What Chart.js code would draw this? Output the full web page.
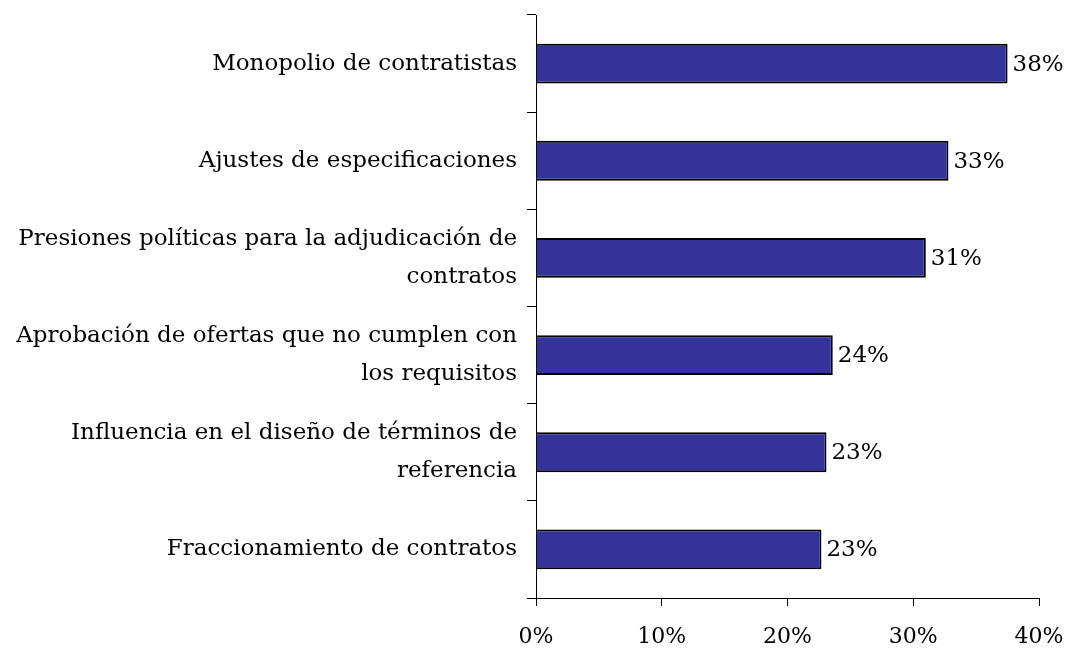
<!DOCTYPE html>
<html>
<head>
<meta charset="utf-8">
<script src="https://cdn.jsdelivr.net/npm/chart.js@4/dist/chart.umd.min.js"></script>
<style>
  html, body { margin: 0; padding: 0; background: #fff; }
  #wrap { width: 1067px; height: 648px; }
</style>
</head>
<body>
<div id="wrap"><canvas id="chartCausas"></canvas></div>
<script>
// --- datos ---
const categorias = [
    'Monopolio de contratistas',
    'Ajustes de especificaciones',
    ['Presiones políticas para la adjudicación de', 'contratos'],
    ['Aprobación de ofertas que no cumplen con', 'los requisitos'],
    ['Influencia en el diseño de términos de', 'referencia'],
    'Fraccionamiento de contratos'
];
const porcentajes = [37.5, 32.8, 31.0, 23.6, 23.1, 22.7];
const ticksX = [0, 10, 20, 30, 40];

const fuente = "'DejaVu Serif', 'Liberation Serif', serif";

// etiquetas de valor a la derecha de cada barra
const etiquetasValor = {
    id: 'etiquetasValor',
    afterDatasetsDraw(chart) {
        const ctx = chart.ctx;
        const meta = chart.getDatasetMeta(0);
        ctx.save();
        ctx.font = '23px ' + fuente;
        ctx.fillStyle = '#000';
        ctx.textAlign = 'left';
        ctx.textBaseline = 'middle';
        meta.data.forEach(function (bar, i) {
            ctx.fillText(Math.round(porcentajes[i]) + '%', bar.x + 5, bar.y + 1);
        });
        ctx.restore();
    }
};

new Chart(document.getElementById('chartCausas'), {
    type: 'bar',
    data: {
        labels: categorias,
        datasets: [{
            data: porcentajes,
            backgroundColor: '#333399',
            borderColor: '#000000',
            borderWidth: 2,
            barPercentage: 0.41,
            categoryPercentage: 1
        }]
    },
    options: {
        indexAxis: 'y',
        responsive: true,
        maintainAspectRatio: false,
        animation: false,
        layout: { padding: { top: 15, right: 28, left: 0, bottom: 0 } },
        plugins: {
            legend: { display: false },
            tooltip: { enabled: false }
        },
        scales: {
            x: {
                min: 0,
                max: 40,
                afterBuildTicks(scale) {
                    scale.ticks = ticksX.map(v => ({ value: v }));
                },
                afterFit(scale) {
                    scale.height = 50;
                    scale.paddingLeft = 0;
                    scale.paddingRight = 0;
                },
                border: { color: '#000', width: 1 },
                grid: { drawOnChartArea: false, color: '#000', tickLength: 8 },
                ticks: {
                    color: '#000',
                    padding: 18,
                    font: { family: fuente, size: 22 },
                    callback: v => v + '%'
                }
            },
            y: {
                afterFit(scale) {
                    scale.width = 536;
                    scale.paddingTop = 0;
                    scale.paddingBottom = 0;
                },
                border: { color: '#000', width: 1 },
                grid: { drawOnChartArea: false, color: '#000', tickLength: 9, offset: true },
                ticks: {
                    color: '#000',
                    padding: 10,
                    font: { family: fuente, size: 23, lineHeight: 1.65 }
                }
            }
        }
    },
    plugins: [etiquetasValor]
});
</script>
</body>
</html>
